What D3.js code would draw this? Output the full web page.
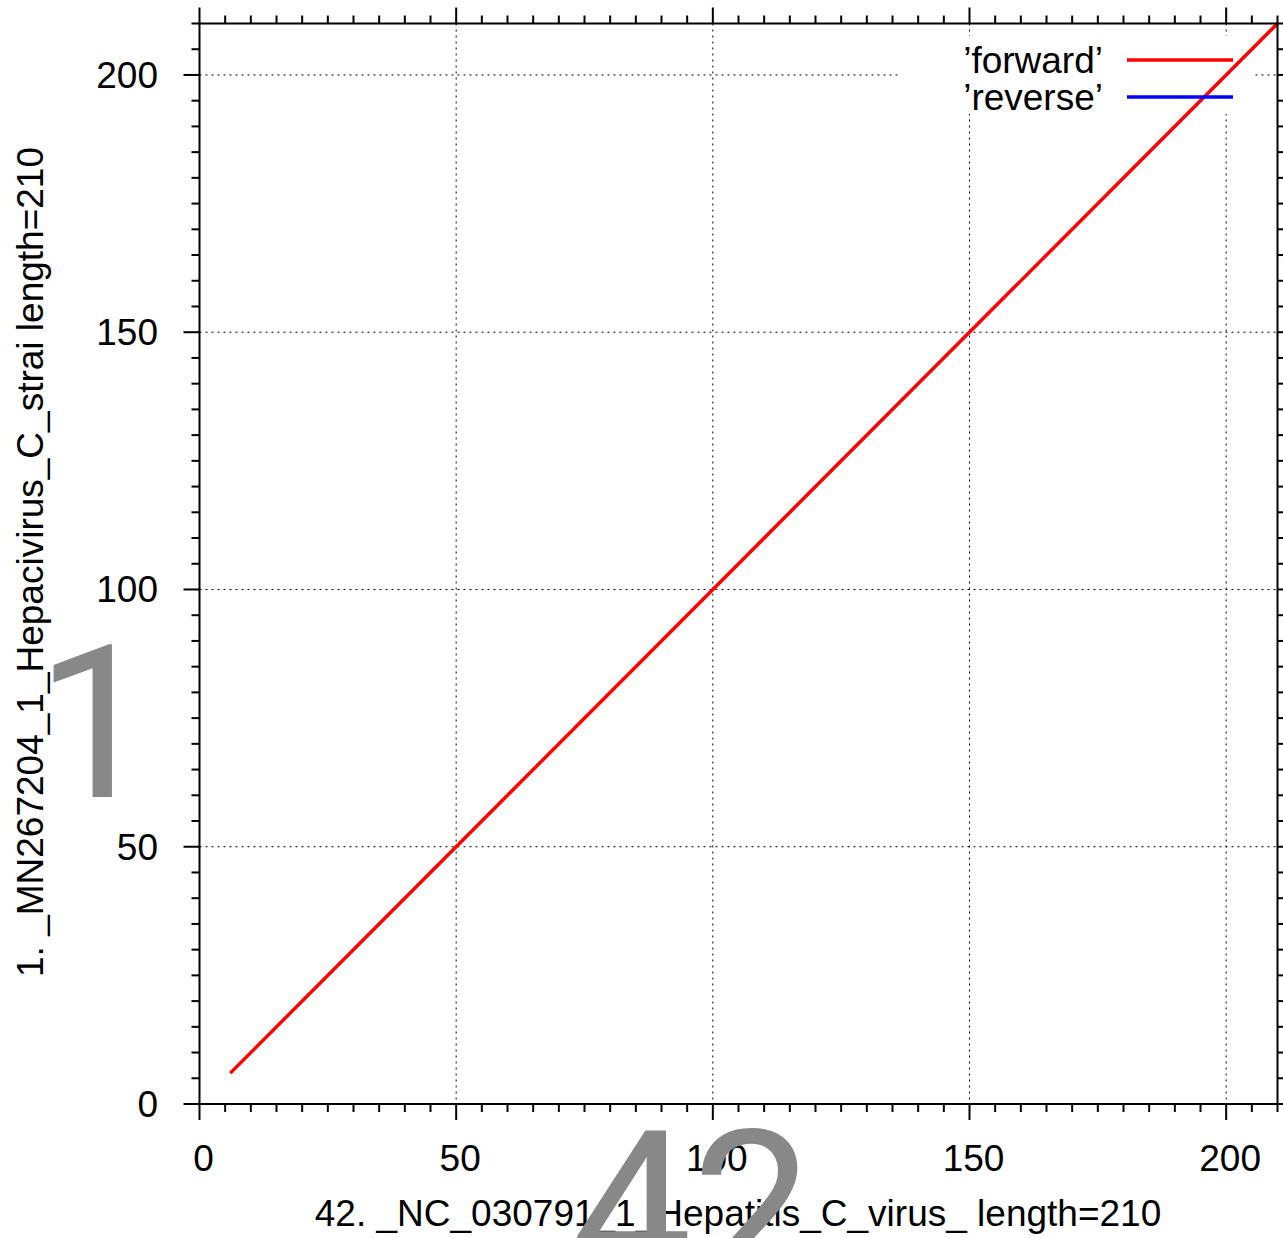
<!DOCTYPE html>
<html><head><meta charset="utf-8">
<script src="https://cdn.jsdelivr.net/npm/d3@7"></script>
<style>body{margin:0;background:#fff}svg{display:block}</style>
</head><body>
<script>
const xDomain = [0, 210];
const yDomain = [0, 210];
const majorTicks = [0, 50, 100, 150, 200];
const minorStep = 5;
const forwardX = [6, 210];
const forwardY = [6, 210];
const reverseX = [];
const reverseY = [];
const xTitle = "42. _NC_030791_1_Hepatitis_C_virus_ length=210";
const yTitle = "1. _MN267204_1_Hepacivirus_C_strai length=210";
const legendLabels = ["\u2019forward\u2019", "\u2019reverse\u2019"];
const legendColors = ["#ff0000", "#0000ff"];
const bigX = "42", bigY = "1";

const W = 1283, H = 1238;
const L = 199.5, R = 1277.5, T = 23.5, B = 1104;
const font = "'Liberation Sans', Arial, sans-serif";
const bigFont = "Roboto, 'Liberation Sans', sans-serif";
const fs = 37;
const svg = d3.select("body").append("svg").attr("width", W).attr("height", H);
const x = d3.scaleLinear().domain(xDomain).range([L, R]);
const y = d3.scaleLinear().domain(yDomain).range([B, T]);
const minor = d3.range(0, 211, minorStep).filter(v => !majorTicks.includes(v));

// grid
const g = svg.append("g");
majorTicks.filter(v => v > 0).forEach(v => {
  g.append("line").attr("x1", x(v)).attr("x2", x(v)).attr("y1", T).attr("y2", B)
    .attr("stroke", "#000").attr("stroke-width", 1).attr("stroke-dasharray", "2,4");
  g.append("line").attr("x1", L).attr("x2", R).attr("y1", y(v)).attr("y2", y(v))
    .attr("stroke", "#000").attr("stroke-width", 1).attr("stroke-dasharray", "2,4");
});

// legend background
svg.append("rect").attr("x", 898).attr("y", 36).attr("width", 357).attr("height", 78).attr("fill", "#fff");

// data line
const line = d3.line().x(d => x(d[0])).y(d => y(d[1]));
svg.append("path").datum(forwardX.map((v, i) => [v, forwardY[i]]))
  .attr("d", line).attr("fill", "none").attr("stroke", legendColors[0]).attr("stroke-width", 3.5);
if (reverseX.length) svg.append("path").datum(reverseX.map((v, i) => [v, reverseY[i]]))
  .attr("d", line).attr("fill", "none").attr("stroke", legendColors[1]).attr("stroke-width", 3.5);

// legend
legendLabels.forEach((lab, i) => {
  const yy = 60 + i * 37;
  svg.append("text").attr("x", 1103).attr("y", yy + 13).attr("text-anchor", "end")
    .attr("font-family", font).attr("font-size", fs).attr("fill", "#000").text(lab);
  svg.append("line").attr("x1", 1127).attr("x2", 1233).attr("y1", yy).attr("y2", yy)
    .attr("stroke", legendColors[i]).attr("stroke-width", 3.5);
});

// axes with border and ticks
const ax = svg.append("g").attr("stroke", "#000").attr("stroke-width", 2);
ax.append("rect").attr("x", L).attr("y", T).attr("width", R - L).attr("height", B - T).attr("fill", "none");
majorTicks.forEach(v => {
  ax.append("line").attr("x1", x(v)).attr("x2", x(v)).attr("y1", B).attr("y2", B + 16);
  ax.append("line").attr("x1", x(v)).attr("x2", x(v)).attr("y1", T).attr("y2", T - 16);
  ax.append("line").attr("y1", y(v)).attr("y2", y(v)).attr("x1", L).attr("x2", L - 16);
  ax.append("line").attr("y1", y(v)).attr("y2", y(v)).attr("x1", R).attr("x2", R + 16);
});
minor.forEach(v => {
  ax.append("line").attr("x1", x(v)).attr("x2", x(v)).attr("y1", B).attr("y2", B + 8);
  ax.append("line").attr("x1", x(v)).attr("x2", x(v)).attr("y1", T).attr("y2", T - 8);
  ax.append("line").attr("y1", y(v)).attr("y2", y(v)).attr("x1", L).attr("x2", L - 8);
  ax.append("line").attr("y1", y(v)).attr("y2", y(v)).attr("x1", R).attr("x2", R + 8);
});

// tick labels
majorTicks.forEach(v => {
  svg.append("text").attr("x", x(v) + 4).attr("y", 1171).attr("text-anchor", "middle")
    .attr("font-family", font).attr("font-size", fs).attr("fill", "#000").text(v);
  svg.append("text").attr("x", 158).attr("y", y(v) + 13).attr("text-anchor", "end")
    .attr("font-family", font).attr("font-size", fs).attr("fill", "#000").text(v);
});

// titles
svg.append("text").attr("x", 738).attr("y", 1226).attr("text-anchor", "middle")
  .attr("font-family", font).attr("font-size", fs).attr("fill", "#000").text(xTitle);
svg.append("text").attr("transform", "translate(43,562) rotate(-90)").attr("text-anchor", "middle")
  .attr("font-family", font).attr("font-size", fs).attr("fill", "#000").text(yTitle);

// big watermark labels (drawn on top)
svg.append("text").attr("x", 96).attr("y", 797).attr("text-anchor", "middle")
  .attr("font-family", bigFont).attr("font-size", 214).attr("fill", "#888888").text(bigY);
svg.append("text").attr("x", 692).attr("y", 1282).attr("text-anchor", "middle")
  .attr("font-family", bigFont).attr("font-size", 214).attr("fill", "#888888").text(bigX);
</script>
</body></html>
